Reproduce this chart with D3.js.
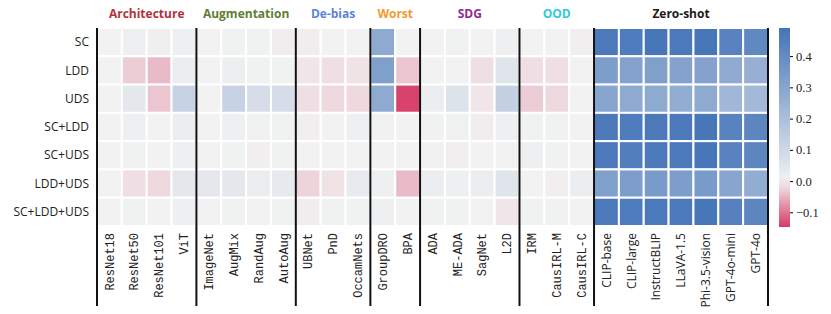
<!DOCTYPE html>
<html>
<head>
<meta charset="utf-8">
<title>heatmap</title>
<style>
  body {margin:0; background:#fff;}
  .rowlab {font-family:"Open Sans", sans-serif; font-size:12px; fill:#222;}
  .collab {font-family:"Liberation Mono", monospace; font-size:12px; fill:#222;}
  .collab.zs {font-family:"Open Sans", sans-serif; font-size:12px;}
  .grp {font-family:"Open Sans", sans-serif; font-size:12px; font-weight:700;}
  .cbar text {font-family:"Liberation Serif", serif; font-size:12.5px; fill:#222;}
</style>
</head>
<body>
<div id="chart"></div>
<script src="https://d3js.org/d3.v7.min.js"></script>
<script>
// rows and columns
var rows = ["SC", "LDD", "UDS", "SC+LDD", "SC+UDS", "LDD+UDS", "SC+LDD+UDS"];
var groups = ["Architecture", "Augmentation", "De-bias", "Worst", "SDG", "OOD", "Zero-shot"];
var groupColors = ["#b5313a", "#5e7d35", "#5c82e0", "#f39a2e", "#8c2b94", "#2fcbdc", "#1a1a1a"];
var groupCols = [
  ["ResNet18", "ResNet50", "ResNet101", "ViT"],
  ["ImageNet", "AugMix", "RandAug", "AutoAug"],
  ["UBNet", "PnD", "OccamNets"],
  ["GroupDRO", "BPA"],
  ["ADA", "ME-ADA", "SagNet", "L2D"],
  ["IRM", "CausIRL-M", "CausIRL-C"],
  ["CLIP-base", "CLIP-large", "InstructBLIP", "LLaVA-1.5", "Phi-3.5-vision", "GPT-4o-mini", "GPT-4o"]
];
var cbTicks = [-0.1, 0.0, 0.1, 0.2, 0.3, 0.4];

// values per row, in column order
var vSC      = [0.0, 0.01, -0.003, 0.01,  0.0, 0.005, 0.005, -0.005,  -0.005, 0.0, 0.0,  0.28, 0.0,  0.0, 0.005, 0.0, 0.01,  0.0, 0.0, -0.003,  0.47, 0.46, 0.48, 0.47, 0.48, 0.43, 0.41];
var vLDD     = [0.0, -0.03, -0.045, 0.02,  0.0, 0.015, 0.005, 0.005,  -0.01, -0.015, -0.012,  0.32, -0.035,  0.0, 0.0, -0.015, 0.05,  -0.015, -0.015, 0.0,  0.33, 0.31, 0.32, 0.31, 0.31, 0.28, 0.26];
var vUDS     = [0.0, 0.04, -0.035, 0.12,  0.0, 0.12, 0.08, 0.08,  -0.015, -0.02, -0.02,  0.28, -0.14,  0.02, 0.06, -0.01, 0.13,  -0.03, -0.02, 0.0,  0.30, 0.28, 0.28, 0.27, 0.28, 0.23, 0.22];
var vSCLDD   = [0.0, 0.01, 0.0, 0.02,  0.0, 0.01, 0.005, 0.005,  -0.003, 0.0, 0.01,  0.005, 0.0,  0.005, 0.005, -0.005, 0.01,  0.005, 0.005, 0.0,  0.47, 0.46, 0.47, 0.47, 0.48, 0.43, 0.42];
var vSCUDS   = [0.0, 0.005, 0.0, 0.01,  0.0, 0.005, -0.003, 0.005,  0.0, 0.0, 0.0,  0.0, 0.0,  0.003, -0.003, 0.0, 0.0,  0.01, 0.005, 0.0,  0.47, 0.45, 0.47, 0.47, 0.48, 0.43, 0.42];
var vLDDUDS  = [0.0, -0.015, -0.02, 0.04,  0.04, 0.04, 0.02, 0.035,  -0.025, -0.012, 0.03,  0.01, -0.045,  0.02, 0.01, 0.02, 0.05,  0.0, -0.003, 0.02,  0.32, 0.33, 0.34, 0.33, 0.34, 0.30, 0.27];
var vAll     = [0.0, 0.005, 0.0, 0.01,  0.0, 0.005, 0.0, 0.005,  -0.005, 0.005, 0.005,  0.01, 0.0,  0.005, 0.005, 0.0, -0.01,  0.005, 0.005, 0.0,  0.47, 0.46, 0.47, 0.47, 0.48, 0.44, 0.42];
var values = [vSC, vLDD, vUDS, vSCLDD, vSCUDS, vLDDUDS, vAll];

var W = 831, H = 314;
var m = {left: 97, right: 768, top: 28, bottom: 226};
var columns = groupCols.flat();

var svg = d3.select("#chart").append("svg").attr("width", W).attr("height", H);

var x = d3.scaleBand().domain(columns).range([m.left, m.right]);
var y = d3.scaleBand().domain(rows).range([m.top, m.bottom]);

var vmin = -0.147, vmax = 0.49;
var color = d3.scaleLinear()
  .domain([vmin, 0, vmax])
  .range(["#d63a64", "#f2f2f2", "#4474b8"])
  .interpolate(d3.interpolateRgb)
  .clamp(true);

var cells = [];
rows.forEach(function(r, i) {
  columns.forEach(function(c, j) { cells.push({r: r, c: c, v: values[i][j]}); });
});

svg.append("g").selectAll("rect")
  .data(cells).join("rect")
  .attr("x", d => x(d.c))
  .attr("y", d => y(d.r))
  .attr("width", x.bandwidth())
  .attr("height", y.bandwidth())
  .attr("fill", d => color(d.v))
  .attr("stroke", "#fff")
  .attr("stroke-width", 2);

// row labels
svg.append("g").selectAll("text")
  .data(rows).join("text")
  .attr("class", "rowlab")
  .attr("x", m.left - 8)
  .attr("y", d => y(d) + y.bandwidth() / 2)
  .attr("dy", "0.35em")
  .attr("text-anchor", "end")
  .text(d => d);

// column labels
var zs = groupCols[6];
svg.append("g").selectAll("text")
  .data(columns).join("text")
  .attr("class", d => zs.indexOf(d) >= 0 ? "collab zs" : "collab")
  .attr("transform", d => "translate(" + (x(d) + x.bandwidth() / 2) + "," + (m.bottom + 7) + ") rotate(-90)")
  .attr("dy", "0.35em")
  .attr("text-anchor", "end")
  .text(d => d);

// group separators and titles
var bounds = [];
var k = 0;
groupCols.forEach(function(g) { bounds.push([k, k + g.length]); k += g.length; });

var edges = [m.left].concat(bounds.map(b => m.left + b[1] * x.step()));
svg.append("g").selectAll("line")
  .data(edges).join("line")
  .attr("x1", d => d).attr("x2", d => d)
  .attr("y1", m.top).attr("y2", 306)
  .attr("stroke", "#111").attr("stroke-width", 2);

svg.append("g").selectAll("text")
  .data(groups).join("text")
  .attr("class", "grp")
  .attr("x", (d, i) => m.left + (bounds[i][0] + bounds[i][1]) / 2 * x.step())
  .attr("y", 18)
  .attr("text-anchor", "middle")
  .attr("fill", (d, i) => groupColors[i])
  .text(d => d);

// colorbar
var cbX = 779, cbW = 11;
var cy = d3.scaleLinear().domain([vmin, vmax]).range([227, 28]);
var grad = svg.append("defs").append("linearGradient").attr("id", "cb")
  .attr("x1", 0).attr("y1", 1).attr("x2", 0).attr("y2", 0);
d3.range(0, 1.0001, 0.05).forEach(function(t) {
  var v = vmin + t * (vmax - vmin);
  grad.append("stop").attr("offset", t).attr("stop-color", color(v));
});
var cb = svg.append("g").attr("class", "cbar");
cb.append("rect").attr("x", cbX).attr("y", 28).attr("width", cbW).attr("height", 199).attr("fill", "url(#cb)");
cb.append("g")
  .attr("transform", "translate(" + (cbX + cbW) + ",0)")
  .call(d3.axisRight(cy).tickValues(cbTicks).tickSize(3).tickPadding(3)
    .tickFormat(d => d < 0 ? "\u2212" + d3.format(".1f")(-d) : d3.format(".1f")(d)))
  .call(g => g.select(".domain").remove());
</script>
</body>
</html>
